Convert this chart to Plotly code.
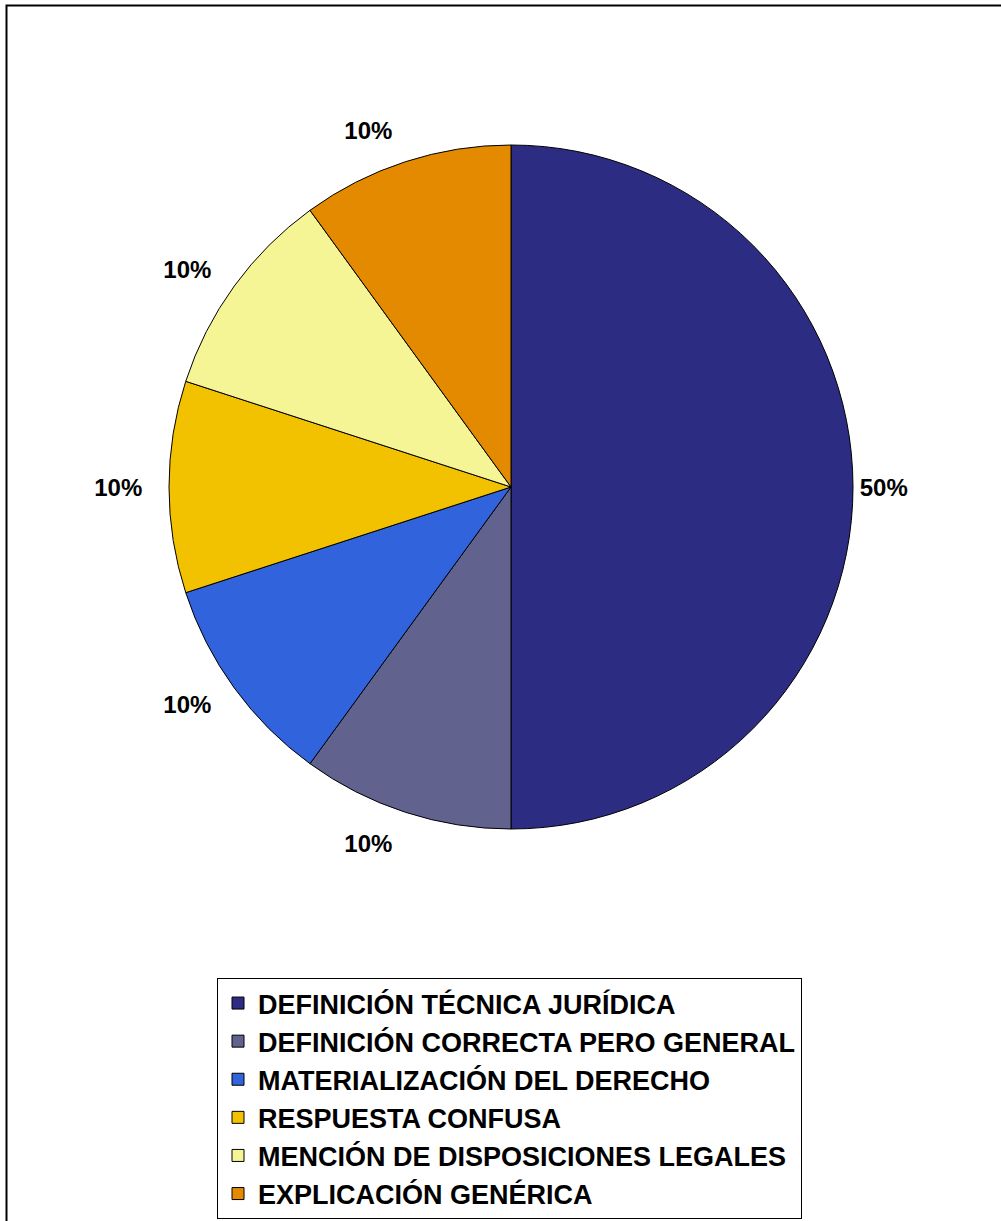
import plotly.graph_objects as go

W, H = 1001, 1221

categories = [
    "DEFINICIÓN TÉCNICA JURÍDICA",
    "DEFINICIÓN CORRECTA PERO GENERAL",
    "MATERIALIZACIÓN DEL DERECHO",
    "RESPUESTA CONFUSA",
    "MENCIÓN DE DISPOSICIONES LEGALES",
    "EXPLICACIÓN GENÉRICA",
]
values = [50, 10, 10, 10, 10, 10]
colors = ["#2c2c82", "#62628f", "#3163dd", "#f2c200", "#f6f596", "#e48a00"]

# pie geometry (pixels)
cx, cy, r = 511, 487, 342
label_gap = 20  # small-slice labels sit a bit further out in the original

def dom(rad):
    return dict(x=[(cx - rad) / W, (cx + rad) / W],
                y=[1 - (cy + rad) / H, 1 - (cy - rad) / H])

label_font = dict(family="Liberation Sans", size=24, color="black", weight="bold")
big = max(values)
tpl_main = ["%{percent:.0%}" if v == big else "" for v in values]
tpl_outer = ["" if v == big else "%{percent:.0%}" for v in values]

fig = go.Figure()
fig.add_trace(go.Pie(
    labels=categories,
    values=values,
    sort=False,
    direction="clockwise",
    rotation=0,
    marker=dict(colors=colors, line=dict(color="black", width=1)),
    texttemplate=tpl_main,
    textposition="outside",
    textfont=label_font,
    hoverinfo="label+percent",
    domain=dom(r),
))
# transparent companion pie carrying the outer labels of the small slices
fig.add_trace(go.Pie(
    labels=categories,
    values=values,
    sort=False,
    direction="clockwise",
    rotation=0,
    marker=dict(colors=["rgba(0,0,0,0)"] * len(values), line=dict(width=0)),
    texttemplate=tpl_outer,
    textposition="outside",
    textfont=label_font,
    hoverinfo="skip",
    showlegend=False,
    domain=dom(r + label_gap),
))

fig.update_layout(
    width=W, height=H,
    margin=dict(l=0, r=0, t=0, b=0),
    paper_bgcolor="white",
    plot_bgcolor="white",
    showlegend=True,
    legend=dict(
        x=217 / W, xanchor="left",
        y=1 - 1219 / H, yanchor="bottom",
        bgcolor="white", bordercolor="black", borderwidth=1,
        font=dict(family="Liberation Sans", size=27, color="black", weight="bold"),
        traceorder="normal",
    ),
    shapes=[
        dict(type="rect", xref="paper", yref="paper",
             x0=6.5 / W, x1=1.05, y0=-0.05, y1=1 - 5.5 / H,
             line=dict(color="black", width=2), layer="below"),
    ],
)

fig.write_html("out.html", config={"displayModeBar": False},
               post_script="document.body.style.margin='0';")
